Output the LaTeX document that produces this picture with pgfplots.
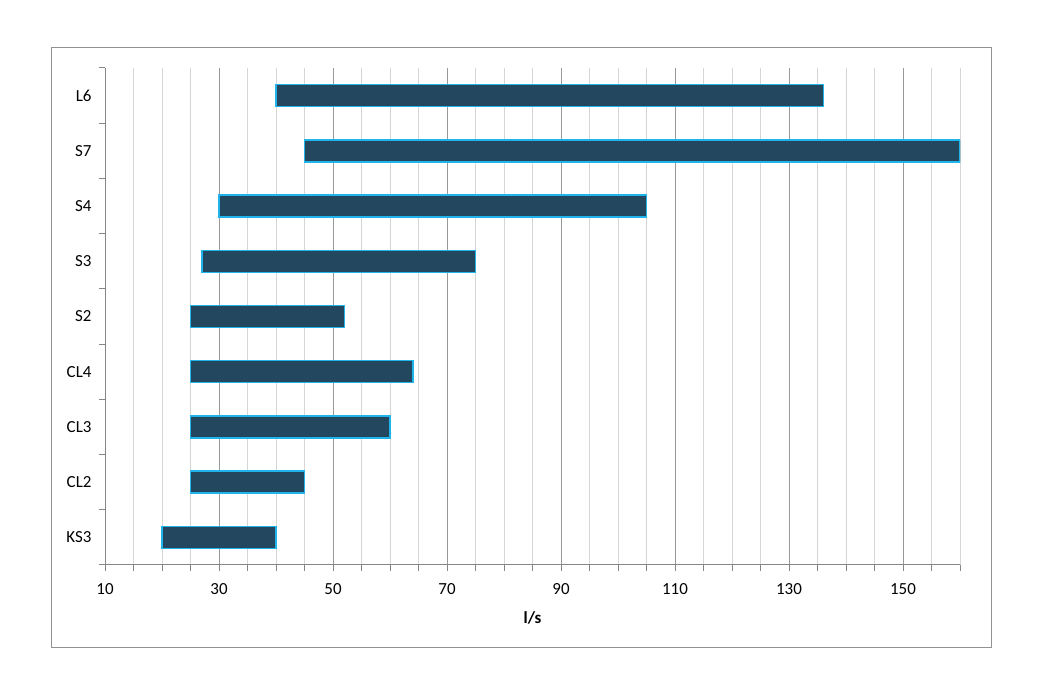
\documentclass[border=0pt]{standalone}
\usepackage{fontspec}
\setmainfont{Carlito}
\usepackage{pgfplots}
\pgfplotsset{compat=1.18}
\definecolor{barfill}{HTML}{23475E}
\definecolor{baredge}{HTML}{1FB4EA}
\definecolor{majgrid}{HTML}{989898}
\definecolor{mingrid}{HTML}{D6D6D6}
\definecolor{axgray}{HTML}{868686}
\begin{document}
\begin{tikzpicture}
\path (0bp,0bp) rectangle (1039bp,697bp);
\draw[color=axgray!90, line width=1bp] (51bp,49bp) rectangle (991bp,649bp);
\begin{axis}[
  at={(105bp,132bp)}, anchor=south west,
  width=855bp, height=497bp, scale only axis,
  xmin=10, xmax=160, ymin=-0.5, ymax=8.5,
  xbar stacked, bar width=22bp,
  axis lines*=left,
  axis line style={color=axgray, line width=1bp},
  xtick={10,30,...,150},
  minor xtick={10,15,...,160},
  xmajorgrids, xminorgrids,
  major grid style={color=majgrid, line width=0.9bp},
  minor grid style={color=mingrid, line width=0.9bp},
  ytick={0,...,8},
  yticklabels={KS3,CL2,CL3,CL4,S2,S3,S4,S7,L6},
  minor ytick={-0.5,0.5,...,8.5},
  tick align=outside,
  major tick length=6bp, minor tick length=6bp,
  tick style={color=axgray, line width=1bp},
  every major y tick/.append style={draw=none},
  tick label style={font=\fontsize{17}{20}\selectfont},
  /pgf/number format/assume math mode=true,
  yticklabel style={xshift=-4bp},
  xticklabel style={yshift=-9bp},
  xlabel={\textbf{l/s}},
  xlabel style={font=\fontsize{17}{20}\selectfont, yshift=-10bp},
]
\addplot[draw=none, fill=none] coordinates {(20,0) (25,1) (25,2) (25,3) (25,4) (27,5) (30,6) (45,7) (40,8)};
\addplot[fill=barfill, draw=baredge, line width=1.4bp] coordinates {(20,0) (20,1) (35,2) (39,3) (27,4) (48,5) (75,6) (115,7) (96,8)};
\end{axis}
\end{tikzpicture}
\end{document}
